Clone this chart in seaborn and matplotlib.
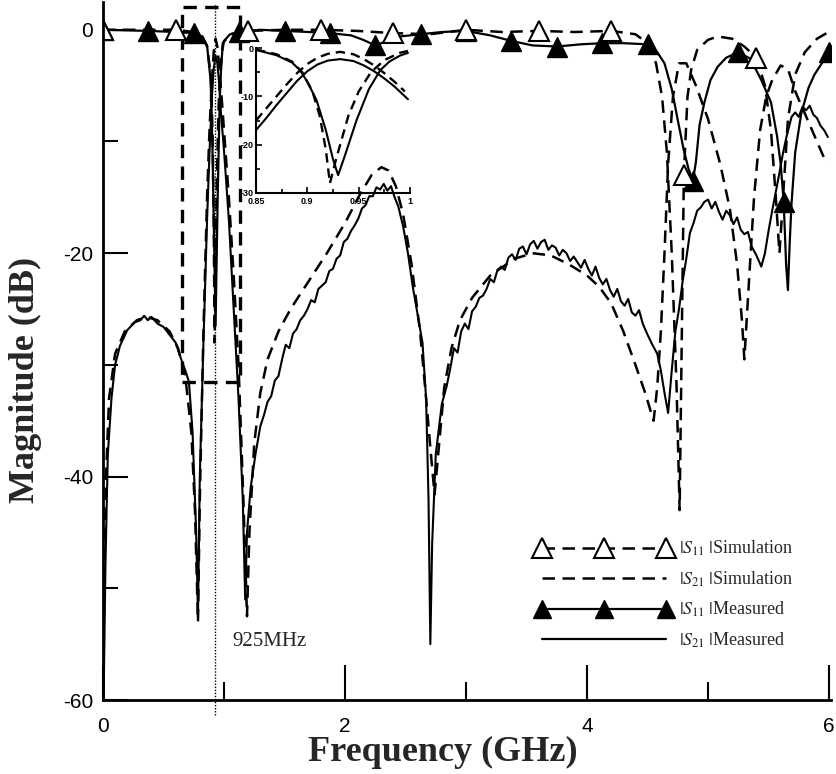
import numpy as np
import pandas as pd
import seaborn as sns
import matplotlib
matplotlib.use('Agg')
from matplotlib import pyplot as plt
from matplotlib.lines import Line2D
from matplotlib.patches import Rectangle

# ---- main plot data (GHz, dB) ----
s11_sim_f = [0.0, 0.3, 0.6, 0.75, 0.82, 0.86, 0.89, 0.905, 0.915, 0.922, 0.93, 0.94, 0.955, 0.97, 0.99,
             1.05, 1.2, 1.5, 1.8, 2.1, 2.4, 2.7, 3.0, 3.3, 3.6, 3.9, 4.2, 4.4, 4.5, 4.57, 4.62, 4.66,
             4.7, 4.74, 4.765, 4.78, 4.8, 4.83, 4.86, 4.91, 5.0, 5.08, 5.2, 5.3, 5.4, 5.47, 5.52, 5.56,
             5.59, 5.62, 5.66, 5.72, 5.8, 5.9, 5.98]
s11_sim_db = [0.0, 0.0, 0.0, -0.2, -0.6, -1.5, -4.0, -9.0, -17.0, -28.0, -22.0, -14.0, -7.0, -3.5, -1.2,
              -0.4, -0.1, 0.0, 0.0, -0.1, -0.3, -0.4, 0.0, -0.2, -0.1, -0.2, -0.1, -0.4, -1.2, -3.0, -6.0, -11.0,
              -20.0, -32.0, -43.0, -30.0, -13.0, -6.0, -3.6, -1.8, -0.9, -0.6, -0.8, -1.5, -2.5, -5.0, -9.0, -15.0,
              -20.0, -15.0, -8.0, -4.0, -2.0, -0.8, -0.3]
s11_sim_markers = [0.0, 0.6, 1.2, 1.8, 2.4, 3.0, 3.6, 4.2, 4.8, 5.4]

s21_sim_f = [0.0, 0.01, 0.025, 0.05, 0.1, 0.18, 0.28, 0.36, 0.45, 0.55, 0.62, 0.68, 0.73, 0.76, 0.785,
             0.8, 0.83, 0.86, 0.88, 0.9, 0.915, 0.93, 0.945, 0.96, 0.98, 1.0, 1.04, 1.08, 1.12, 1.16,
             1.19, 1.21, 1.25, 1.3, 1.36, 1.45, 1.55, 1.7, 1.85, 2.0, 2.12, 2.22, 2.3, 2.36, 2.42, 2.48,
             2.55, 2.62, 2.67, 2.71, 2.74, 2.77, 2.82, 2.88, 2.95, 3.05, 3.2, 3.4, 3.55, 3.7, 3.85, 4.0,
             4.1, 4.2, 4.3, 4.4, 4.48, 4.55, 4.58, 4.61, 4.64, 4.67, 4.71, 4.76, 4.82, 4.9, 5.0, 5.1,
             5.18, 5.24, 5.28, 5.3, 5.33, 5.38, 5.43, 5.48, 5.53, 5.6, 5.66, 5.72, 5.8, 5.88, 5.98]
s21_sim_db = [-60.0, -50.0, -40.0, -33.0, -29.0, -27.0, -26.0, -25.7, -26.0, -27.0, -28.5, -31.0, -36.0, -43.0, -53.0,
              -42.0, -27.0, -15.0, -9.0, -4.5, -2.0, -0.8, -1.5, -3.2, -6.0, -9.0, -15.0, -22.0, -30.0, -42.0,
              -52.5, -45.0, -37.0, -32.5, -29.5, -27.0, -25.0, -22.5, -20.0, -17.3, -14.8, -13.0, -12.3, -12.6, -14.0, -16.5,
              -21.0, -27.0, -33.0, -38.0, -41.6, -38.0, -32.0, -28.5, -26.0, -24.0, -22.0, -20.5, -20.0, -20.2, -21.0, -22.0,
              -23.0, -24.5, -27.0, -30.0, -32.5, -35.0, -32.0, -27.0, -20.0, -12.0, -6.0, -3.0, -3.0, -5.0, -8.0, -12.0,
              -16.0, -21.0, -26.0, -29.5, -24.0, -15.0, -9.0, -6.0, -4.5, -3.2, -3.5, -5.5, -7.5, -9.5, -12.0]

s11_meas_f = [0.0, 0.375, 0.6, 0.75, 0.82, 0.86, 0.89, 0.905, 0.92, 0.93, 0.94, 0.948, 0.96, 0.97, 0.985,
              1.0, 1.05, 1.125, 1.3, 1.5, 1.7, 1.875, 2.05, 2.15, 2.25, 2.35, 2.45, 2.625, 2.8, 3.0,
              3.2, 3.375, 3.55, 3.75, 3.95, 4.125, 4.3, 4.5, 4.58, 4.64, 4.7, 4.75, 4.8, 4.84, 4.875,
              4.9, 4.93, 4.97, 5.02, 5.08, 5.15, 5.25, 5.35, 5.44, 5.52, 5.57, 5.6, 5.625, 5.645, 5.66,
              5.675, 5.69, 5.72, 5.77, 5.83, 5.88, 5.94, 6.0]
s11_meas_db = [0.0, -0.1, -0.2, -0.3, -0.6, -1.4, -4.6, -10.8, -20.0, -26.5, -20.0, -14.9, -8.5, -4.6, -2.0,
               -1.0, -0.4, -0.2, 0.0, -0.1, -0.2, -0.3, -0.5, -0.9, -1.4, -1.0, -0.6, -0.4, -0.2, -0.1,
               -0.5, -1.0, -1.4, -1.5, -1.3, -1.2, -1.2, -1.3, -2.0, -3.0, -5.3, -8.1, -10.8, -12.5, -13.5,
               -11.8, -8.5, -6.5, -4.5, -3.3, -2.5, -2.0, -2.6, -4.5, -6.5, -9.5, -12.0, -15.4, -21.0, -23.3,
               -19.0, -15.5, -11.0, -7.5, -5.2, -4.0, -3.0, -2.0]
s11_meas_markers = [0.0, 0.375, 0.75, 1.125, 1.5, 1.875, 2.25, 2.625, 3.0, 3.375, 3.75, 4.125, 4.5,
                    4.875, 5.25, 5.625, 6.0]

s21_meas_f = [0.005, 0.02, 0.04, 0.07, 0.1, 0.14, 0.2, 0.26, 0.31, 0.34, 0.37, 0.4, 0.45, 0.5, 0.55,
              0.6, 0.64, 0.68, 0.71, 0.74, 0.77, 0.785, 0.8, 0.83, 0.86, 0.88, 0.9, 0.915, 0.93, 0.945,
              0.96, 0.975, 1.0, 1.04, 1.08, 1.12, 1.155, 1.175, 1.19, 1.22, 1.26, 1.3, 1.33, 1.36, 1.39,
              1.42, 1.45, 1.48, 1.51, 1.54, 1.57, 1.6, 1.63, 1.66, 1.69, 1.72, 1.75, 1.78, 1.81, 1.84,
              1.87, 1.9, 1.93, 1.96, 1.99, 2.02, 2.05, 2.08, 2.11, 2.14, 2.17, 2.2, 2.23, 2.26, 2.29,
              2.32, 2.35, 2.38, 2.41, 2.44, 2.48, 2.52, 2.56, 2.6, 2.64, 2.67, 2.69, 2.705, 2.72, 2.75,
              2.8, 2.84, 2.87, 2.9, 2.93, 2.96, 2.99, 3.02, 3.05, 3.08, 3.11, 3.14, 3.17, 3.2, 3.23,
              3.26, 3.29, 3.32, 3.35, 3.38, 3.41, 3.44, 3.47, 3.5, 3.53, 3.56, 3.59, 3.62, 3.65, 3.68,
              3.71, 3.74, 3.77, 3.8, 3.83, 3.86, 3.89, 3.92, 3.95, 3.98, 4.01, 4.04, 4.07, 4.1, 4.13,
              4.16, 4.19, 4.22, 4.25, 4.28, 4.31, 4.34, 4.37, 4.4, 4.43, 4.46, 4.5, 4.54, 4.58, 4.61,
              4.64, 4.67, 4.7, 4.73, 4.76, 4.79, 4.82, 4.85, 4.88, 4.91, 4.94, 4.97, 5.0, 5.03, 5.06,
              5.09, 5.12, 5.15, 5.18, 5.21, 5.24, 5.27, 5.3, 5.33, 5.36, 5.4, 5.44, 5.47, 5.5, 5.53,
              5.56, 5.59, 5.62, 5.65, 5.69, 5.72, 5.75, 5.78, 5.81, 5.84, 5.87, 5.9, 5.93, 5.96, 5.99]
s21_meas_db = [-60.0, -48.0, -38.0, -33.0, -30.0, -28.3, -26.9, -26.2, -26.0, -25.6, -26.0, -25.7, -26.3, -26.6, -27.3,
               -28.0, -29.3, -30.5, -31.5, -36.0, -45.0, -52.5, -40.0, -28.0, -17.0, -11.0, -6.0, -3.5, -2.3, -3.0,
               -4.8, -7.5, -10.8, -17.0, -25.0, -33.0, -42.0, -51.0, -45.0, -41.0, -38.0, -35.5, -34.5, -33.3, -32.8,
               -31.4, -31.0, -29.5, -28.2, -28.5, -27.2, -26.8, -26.0, -25.6, -25.0, -24.2, -24.4, -23.2, -22.9, -22.6,
               -21.6, -21.4, -20.5, -20.2, -19.0, -18.7, -18.0, -17.5, -16.9, -16.0, -15.7, -14.9, -14.9, -14.1, -14.3,
               -13.8, -14.4, -14.0, -15.0, -15.8, -17.6, -20.0, -23.0, -25.5, -28.0, -33.0, -42.0, -55.0, -46.0, -38.0,
               -33.5, -31.9, -30.3, -28.5, -28.9, -27.0, -26.3, -26.8, -25.2, -24.8, -24.0, -23.8, -23.2, -22.3, -22.6,
               -21.5, -21.2, -21.5, -20.4, -20.1, -20.6, -19.6, -19.4, -20.1, -19.2, -18.9, -19.6, -19.0, -18.8, -19.7,
               -19.3, -19.5, -20.2, -19.7, -20.0, -20.7, -20.3, -20.8, -21.3, -20.6, -21.4, -22.0, -21.2, -22.2, -22.8,
               -22.3, -23.3, -23.9, -23.2, -24.3, -24.7, -24.1, -25.3, -25.6, -25.1, -26.3, -27.3, -28.2, -29.0, -30.5,
               -32.5, -34.3, -30.5, -27.0, -25.0, -22.5, -20.5, -18.2, -17.3, -16.2, -15.9, -15.4, -15.2, -16.0, -15.4,
               -16.3, -17.0, -16.2, -16.6, -17.4, -16.8, -17.9, -18.3, -18.1, -19.4, -20.2, -21.2, -20.0, -18.0, -16.2,
               -14.5, -12.8, -11.0, -9.5, -7.8, -7.4, -7.8, -6.9, -7.2, -6.8, -7.6, -7.9, -8.6, -9.0, -9.6]

# ---- inset data (0.85 - 1 GHz) ----
in_s11_meas_f = [0.85, 0.87, 0.885, 0.893, 0.9, 0.909, 0.918, 0.925, 0.93, 0.937, 0.948, 0.96, 0.971, 0.98, 0.99, 0.998]
in_s11_meas_db = [-0.4, -1.5, -3.0, -4.6, -7.0, -10.8, -17.0, -23.0, -26.3, -22.0, -14.9, -8.5, -4.6, -2.8, -1.6, -1.0]
in_s11_sim_f = [0.85, 0.87, 0.885, 0.895, 0.905, 0.912, 0.918, 0.922, 0.928, 0.94, 0.95, 0.962, 0.975, 0.99, 0.998]
in_s11_sim_db = [-0.3, -1.3, -2.8, -5.0, -9.0, -14.0, -21.0, -28.0, -23.0, -14.0, -9.0, -5.0, -2.5, -1.0, -0.6]
in_s21_meas_f = [0.85, 0.86, 0.87, 0.88, 0.89, 0.9, 0.91, 0.92, 0.932, 0.945, 0.955, 0.965, 0.975, 0.985, 0.998]
in_s21_meas_db = [-17.0, -14.5, -11.8, -9.3, -6.8, -4.8, -3.4, -2.6, -2.3, -2.7, -3.6, -4.8, -6.3, -8.0, -10.6]
in_s21_sim_f = [0.85, 0.86, 0.87, 0.88, 0.89, 0.9, 0.91, 0.92, 0.932, 0.945, 0.955, 0.965, 0.975, 0.985, 0.995]
in_s21_sim_db = [-15.0, -12.5, -10.0, -7.5, -5.2, -3.3, -2.0, -1.2, -0.8, -1.3, -2.3, -3.6, -5.2, -7.0, -9.0]

center_freq = 0.925
zoom_box = (0.65, 1.13, -31.5, 2.0)   # f_lo, f_hi, db_lo, db_hi

legend_labels = [r'$|S_{11}\;|$Simulation', r'$|S_{21}\;|$Simulation',
                 r'$|S_{11}\;|$Measured', r'$|S_{21}\;|$Measured']

DASH = (0, (5, 3))


def to_df(f, db):
    return pd.DataFrame({'freq': f, 'mag': db})


def marker_idx(f, marks):
    return np.flatnonzero(np.isin(np.round(f, 3), np.round(marks, 3))).tolist()


sns.set_style('ticks')
plt.rcParams['font.family'] = ['Liberation Sans', 'DejaVu Sans']
plt.rcParams['mathtext.fontset'] = 'stix'
plt.rcParams['axes.unicode_minus'] = False

fig = plt.figure(figsize=(8.36, 7.74), dpi=100)
ax = fig.add_axes([0.1232, 0.0956, 0.8714, 0.902])

# curves
sns.lineplot(data=to_df(s21_sim_f, s21_sim_db), x='freq', y='mag', ax=ax, color='black',
             lw=1.8, linestyle=DASH, estimator=None, sort=False)
sns.lineplot(data=to_df(s21_meas_f, s21_meas_db), x='freq', y='mag', ax=ax, color='black',
             lw=1.5, estimator=None, sort=False)
sns.lineplot(data=to_df(s11_meas_f, s11_meas_db), x='freq', y='mag', ax=ax, color='black',
             lw=1.6, estimator=None, sort=False, marker='^', markersize=14,
             markevery=marker_idx(s11_meas_f, s11_meas_markers),
             markerfacecolor='black', markeredgecolor='black', markeredgewidth=1)
sns.lineplot(data=to_df(s11_sim_f, s11_sim_db), x='freq', y='mag', ax=ax, color='black',
             lw=1.8, linestyle=DASH, estimator=None, sort=False, marker='^', markersize=15,
             markevery=marker_idx(s11_sim_f, s11_sim_markers),
             markerfacecolor='white', markeredgecolor='black', markeredgewidth=1.5)

# zoom box + centre frequency marker
f_lo, f_hi, d_lo, d_hi = zoom_box
ax.add_patch(Rectangle((f_lo, d_lo), f_hi - f_lo, d_hi - d_lo, fill=False, ls=(0, (4, 2.5)),
                       lw=2.4, ec='black', zorder=1))
ax.plot([center_freq, center_freq], [-61.3, 2.4], ls=(0, (1, 1.2)), lw=1.0, color='black',
        clip_on=False)
ax.text(center_freq + 0.145, -54.8, '925MHz', family='Liberation Serif', fontsize=15, va='center')

ax.set_xlim(0, 6.02)
ax.set_ylim(-60, 2.5)
ax.set_xticks([0, 2, 4, 6])
ax.set_xticks([1, 3, 5], minor=True)
ax.set_yticks([0, -20, -40, -60])
ax.set_yticks([-10, -30, -50], minor=True)
ax.tick_params(which='both', direction='in', width=1.5, colors='black', labelsize=15)
ax.tick_params(axis='x', which='major', length=25, pad=12)
ax.tick_params(axis='x', which='minor', length=13)
ax.tick_params(axis='y', which='major', length=18, pad=7)
ax.tick_params(axis='y', which='minor', length=11)
for s in ['top', 'right']:
    ax.spines[s].set_visible(False)
for s in ['left', 'bottom']:
    ax.spines[s].set_linewidth(2)
    ax.spines[s].set_color('black')

ax.set_xlabel('Frequency (GHz)', fontsize=26, fontweight='bold', family='Liberation Serif')
ax.set_ylabel('Magnitude (dB)', fontsize=26, fontweight='bold', family='Liberation Serif')
ax.xaxis.set_label_coords(0.467, -0.052)
ax.yaxis.set_label_coords(-0.084, 0.458)

# legend
handles = [
    Line2D([], [], color='black', lw=1.8, ls=DASH, marker='^', ms=14,
           mfc='white', mec='black', mew=1.5),
    Line2D([], [], color='black', lw=1.8, ls=DASH),
    Line2D([], [], color='black', lw=1.6, marker='^', ms=13, mfc='black', mec='black'),
    Line2D([], [], color='black', lw=1.6),
]
ax.legend(handles, legend_labels, loc='center', bbox_to_anchor=(0.795, 0.232),
          bbox_transform=fig.transFigure, frameon=False, numpoints=3, handlelength=7.5,
          prop={'family': 'Liberation Serif', 'size': 13}, labelspacing=0.62, handletextpad=0.4)

# inset
ins = fig.add_axes([256 / 836, 1 - 193 / 774, 154 / 836, 145 / 774])
ins.patch.set_alpha(0)
sns.lineplot(data=to_df(in_s11_sim_f, in_s11_sim_db), x='freq', y='mag', ax=ins, color='black',
             lw=1.7, linestyle=(0, (4, 2.5)), estimator=None, sort=False)
sns.lineplot(data=to_df(in_s21_sim_f, in_s21_sim_db), x='freq', y='mag', ax=ins, color='black',
             lw=1.7, linestyle=(0, (4, 2.5)), estimator=None, sort=False)
sns.lineplot(data=to_df(in_s11_meas_f, in_s11_meas_db), x='freq', y='mag', ax=ins, color='black',
             lw=1.5, estimator=None, sort=False)
sns.lineplot(data=to_df(in_s21_meas_f, in_s21_meas_db), x='freq', y='mag', ax=ins, color='black',
             lw=1.5, estimator=None, sort=False)
ins.set_xlim(0.85, 1.0)
ins.set_ylim(-30, 0)
ins.set_xticks([0.85, 0.9, 0.95, 1.0])
ins.set_xticklabels(['0.85', '0.9', '0.95', '1'])
ins.set_xticks([0.875, 0.925, 0.975], minor=True)
ins.set_yticks([0, -10, -20, -30])
ins.set_yticks([-5, -15, -25], minor=True)
ins.tick_params(which='both', direction='in', width=1.2, colors='black', labelsize=6.5)
ins.tick_params(axis='x', pad=3)
ins.tick_params(axis='y', pad=1.5)
ins.tick_params(which='major', length=4)
ins.tick_params(which='minor', length=3)
for lab in ins.get_xticklabels() + ins.get_yticklabels():
    lab.set_fontweight('bold')
for s in ['top', 'right']:
    ins.spines[s].set_visible(False)
for s in ['left', 'bottom']:
    ins.spines[s].set_linewidth(1.5)
    ins.spines[s].set_color('black')
ins.set_xlabel('')
ins.set_ylabel('')

fig.savefig('out.png', dpi=100)
